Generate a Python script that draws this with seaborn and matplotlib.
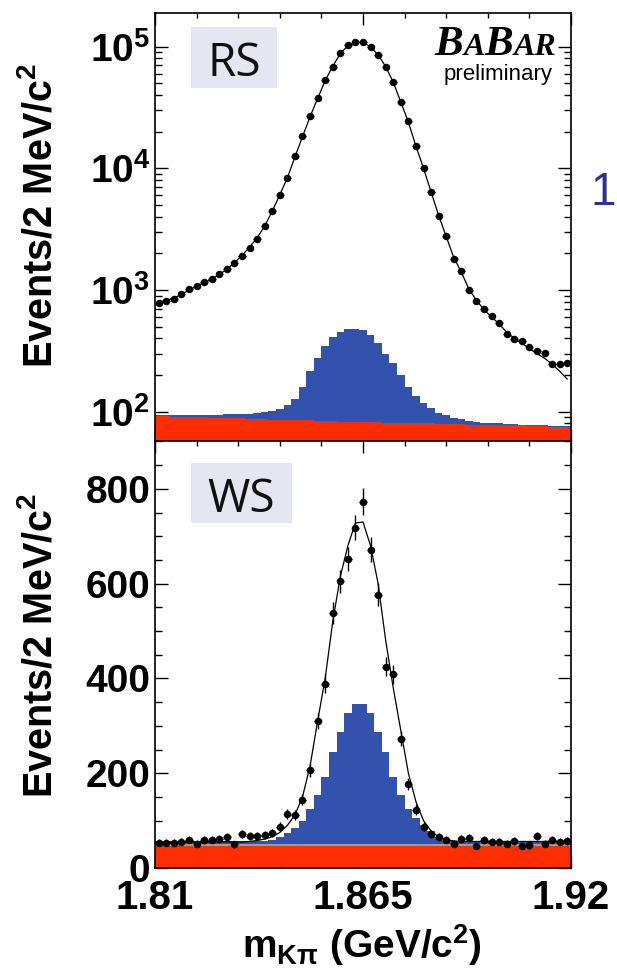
import numpy as np
import pandas as pd
import seaborn as sns
import matplotlib.pyplot as plt
from matplotlib.patches import Rectangle
from matplotlib.offsetbox import TextArea, HPacker, AnnotationBbox
from matplotlib.ticker import FixedLocator, LogLocator, MultipleLocator, NullFormatter

# 2 MeV bins between 1.81 and 1.92 GeV
m_lo, m_hi, bin_w = 1.81, 1.92, 0.002
edges = np.round(np.arange(m_lo, m_hi + bin_w / 2, bin_w), 4)
centers = edges[:-1] + bin_w / 2

x_major = [1.81, 1.865, 1.92]
x_minor = [1.821, 1.832, 1.843, 1.854, 1.876, 1.887, 1.898, 1.909]

# right-sign sample (log scale)
rs_data = [787, 813, 849, 920, 1012, 1079, 1164, 1223, 1343, 1476,
           1674, 1899, 2223, 2634, 3350, 4446, 6085, 8340, 12540, 18290,
           26670, 37720, 53340, 68560, 88140, 103200, 109900, 109900, 100000, 85500,
           68560, 51640, 34750, 24290, 15140, 10060, 6357, 4090, 2773, 1808,
           1432, 1000, 813, 695, 613, 540, 433, 394, 382, 337,
           316, 306, 246, 246, 251]
rs_fit = [800, 820, 860, 920, 1000, 1075, 1150, 1230, 1340, 1480,
          1680, 1920, 2250, 2680, 3350, 4450, 6050, 8350, 12400, 18200,
          26500, 37500, 52500, 69000, 87500, 102000, 109000, 108500, 99500, 85500,
          68500, 51000, 35000, 24000, 15200, 10000, 6400, 4100, 2750, 1850,
          1400, 1020, 820, 690, 600, 525, 450, 400, 365, 330,
          300, 275, 245, 215, 185]
rs_peaking = [94, 94, 94, 94, 94, 94, 94, 94, 94, 95,
              95, 96, 96, 97, 99, 101, 105, 113, 128, 158,
              215, 278, 348, 412, 448, 476, 482, 470, 425, 365,
              300, 250, 200, 160, 135, 118, 108, 98, 93, 89,
              87, 84, 82, 81, 80, 80, 79, 79, 78, 78,
              77, 77, 76, 76, 76]
rs_comb = [92, 92, 91, 91, 90, 90, 90, 89, 89, 88,
           88, 88, 87, 87, 87, 86, 86, 86, 85, 85,
           85, 84, 84, 84, 83, 83, 83, 82, 82, 82,
           81, 81, 81, 80, 80, 80, 80, 79, 79, 79,
           79, 78, 78, 78, 78, 77, 77, 77, 77, 76,
           76, 76, 75, 75, 75]

# wrong-sign sample (linear scale)
ws_data = [53, 53, 53, 55, 60, 51, 59, 60, 61, 66,
           50, 71, 67, 67, 69, 73, 87, 114, 112, 144,
           207, 310, 389, 538, 605, 652, 718, 773, 672, 577,
           425, 409, 273, 177, 123, 87, 71, 66, 60, 51,
           62, 64, 46, 59, 55, 55, 51, 57, 46, 48,
           67, 51, 60, 55, 57]
ws_fit = [55, 55, 55, 55, 55, 55, 55, 55, 55, 55,
          55, 55, 56, 58, 61, 66, 75, 90, 112, 150,
          215, 310, 400, 520, 615, 680, 728, 730, 680, 600,
          480, 380, 290, 200, 140, 100, 78, 66, 60, 57,
          56, 56, 56, 56, 56, 56, 56, 56, 56, 56,
          56, 56, 56, 56, 56]
ws_signal = [56, 56, 56, 56, 56, 56, 56, 56, 56, 56,
             56, 56, 56, 56, 56, 60, 66, 74, 85, 100,
             125, 154, 193, 245, 288, 327, 346, 346, 327, 288,
             245, 193, 154, 125, 105, 90, 78, 65, 58, 56,
             56, 56, 56, 56, 56, 56, 56, 56, 56, 56,
             56, 56, 56, 56, 56]
ws_mistag = [51, 51, 51, 51, 51, 51, 51, 51, 51, 51,
             51, 51, 51, 51, 51, 51, 51, 51, 51, 51,
             51, 51, 51, 51, 51, 51, 51, 51, 50, 50,
             50, 50, 50, 50, 50, 50, 50, 50, 50, 50,
             50, 50, 50, 50, 50, 50, 50, 50, 50, 50,
             50, 50, 50, 50, 50]
ws_comb = [47, 47, 47, 47, 47, 47, 47, 47, 47, 47,
           47, 47, 47, 47, 47, 47, 47, 47, 47, 47,
           47, 47, 47, 47, 47, 47, 47, 47, 46, 46,
           46, 46, 46, 46, 46, 46, 46, 46, 46, 46,
           46, 46, 46, 46, 46, 46, 46, 46, 46, 46,
           46, 46, 46, 46, 46]

RED = '#ff2d00'
BLUE = '#3252ad'
GRAY = '#a39c96'
BOX = '#e4e6f2'

sns.set_style('ticks')
plt.rcParams['font.family'] = ['Liberation Sans', 'DejaVu Sans']
plt.rcParams['font.weight'] = 'bold'
plt.rcParams['text.color'] = 'black'
plt.rcParams['xtick.color'] = 'black'
plt.rcParams['ytick.color'] = 'black'
plt.rcParams['mathtext.default'] = 'regular'
plt.rcParams['mathtext.fontset'] = 'custom'
plt.rcParams['mathtext.rm'] = 'Liberation Sans'

W, H = 617, 971
fig = plt.figure(figsize=(W / 100, H / 100), dpi=100)


def px_axes(l, t, r, b):
    return fig.add_axes([l / W, 1 - b / H, (r - l) / W, (b - t) / H])


ax_rs = px_axes(155, 12.7, 571, 441)
ax_ws = px_axes(155, 441, 571, 868)


def layer(ax, vals, color):
    df = pd.DataFrame({'mass': centers, 'events': vals})
    sns.histplot(data=df, x='mass', weights='events', bins=list(edges),
                 element='step', fill=True, color=color, alpha=1, linewidth=0, ax=ax)


# RS panel
layer(ax_rs, rs_peaking, BLUE)
layer(ax_rs, rs_comb, RED)
ax_rs.errorbar(centers, rs_data, xerr=bin_w / 2, fmt='o', ms=4.4, color='black',
               elinewidth=1, capsize=0, zorder=5)
sns.lineplot(x=centers, y=rs_fit, ax=ax_rs, color='black', lw=0.9, zorder=6)
ax_rs.set_yscale('log')
ax_rs.set_ylim(57.4, 1.9e5)

# WS panel
layer(ax_ws, ws_signal, BLUE)
layer(ax_ws, ws_mistag, GRAY)
layer(ax_ws, ws_comb, RED)
ax_ws.errorbar(centers, ws_data, yerr=np.sqrt(ws_data), xerr=bin_w / 2, fmt='o', ms=4.4,
               color='black', elinewidth=1, capsize=0, zorder=5)
sns.lineplot(x=centers, y=ws_fit, ax=ax_ws, color='black', lw=0.9, zorder=6)
ax_ws.set_ylim(0, 901)

for ax in (ax_rs, ax_ws):
    ax.set_xlim(m_lo, m_hi)
    ax.set_xlabel('')
    ax.set_ylabel('')
    ax.xaxis.set_major_locator(FixedLocator(x_major))
    ax.xaxis.set_minor_locator(FixedLocator(x_minor))
    ax.tick_params(which='both', direction='in', top=True, right=True,
                   color='black', labelcolor='black', width=1)
    ax.tick_params(axis='x', which='major', length=8.6, pad=8, labelsize=29)
    ax.tick_params(axis='x', which='minor', length=3.6)
    ax.tick_params(axis='y', which='major', length=9.4, pad=3.5, labelsize=28)
    ax.tick_params(axis='y', which='minor', length=5)
    for s in ax.spines.values():
        s.set_linewidth(1.2)
        s.set_color('black')
        s.set_zorder(7)

ax_rs.yaxis.set_major_locator(FixedLocator([1e2, 1e3, 1e4, 1e5]))
ax_rs.set_yticklabels(['10$^{2}$', '10$^{3}$', '10$^{4}$', '10$^{5}$'])
ax_rs.yaxis.set_minor_locator(LogLocator(base=10, subs=range(2, 10)))
ax_rs.yaxis.set_minor_formatter(NullFormatter())
ax_rs.set_xticklabels([])

ax_ws.yaxis.set_major_locator(FixedLocator([0, 200, 400, 600, 800]))
ax_ws.yaxis.set_minor_locator(MultipleLocator(50))
ax_ws.set_xticklabels(['1.81', '1.865', '1.92'])

# axis titles
ylab = 'Events/2 MeV/c$^{2}$'
fig.text(52 / W, 1 - 215 / H, ylab, rotation=90, rotation_mode='anchor',
         ha='center', va='baseline', fontsize=28.5)
fig.text(52 / W, 1 - 645 / H, ylab, rotation=90, rotation_mode='anchor',
         ha='center', va='baseline', fontsize=28.5)
fig.text(362 / W, 1 - 958 / H, r'm$_{\mathrm{K}\pi}$ (GeV/c$^{2}$)',
         ha='center', va='baseline', fontsize=28)

# sample labels
for (l, t, r, b), txt, cx, base in [((191, 27, 277, 88), 'RS', 234, 76),
                                     ((191, 463, 292, 523), 'WS', 241, 511.7)]:
    fig.add_artist(Rectangle((l / W, 1 - b / H), (r - l) / W, (b - t) / H,
                             transform=fig.transFigure, facecolor=BOX,
                             edgecolor='none'))
    fig.text(cx / W, 1 - base / H, txt, family='Open Sans', weight='normal',
             fontsize=33, ha='center', va='baseline', color='#111111')

# BaBar logo
big = dict(fontsize=31, family='Liberation Serif', style='italic', weight='bold',
           color='black')
small = dict(fontsize=23, family='Liberation Serif', style='italic', weight='bold',
             color='black')
logo = HPacker(children=[TextArea('B', textprops=big), TextArea('A', textprops=small),
                         TextArea('B', textprops=big), TextArea('AR', textprops=small)],
               align='baseline', pad=0, sep=0)
fig.add_artist(AnnotationBbox(logo, (556 / W, 1 - 64 / H), xycoords='figure fraction',
                              box_alignment=(1, 0), frameon=False))
fig.text(553 / W, 1 - 80 / H, 'preliminary', ha='right', va='baseline',
         fontsize=16, weight='normal')

# clipped number from the neighbouring slide
fig.text(616 / W, 1 - 205 / H, '1', color='#2e3192', fontsize=33,
         weight='normal', ha='right', va='baseline')

fig.savefig('out.png', dpi=100)
